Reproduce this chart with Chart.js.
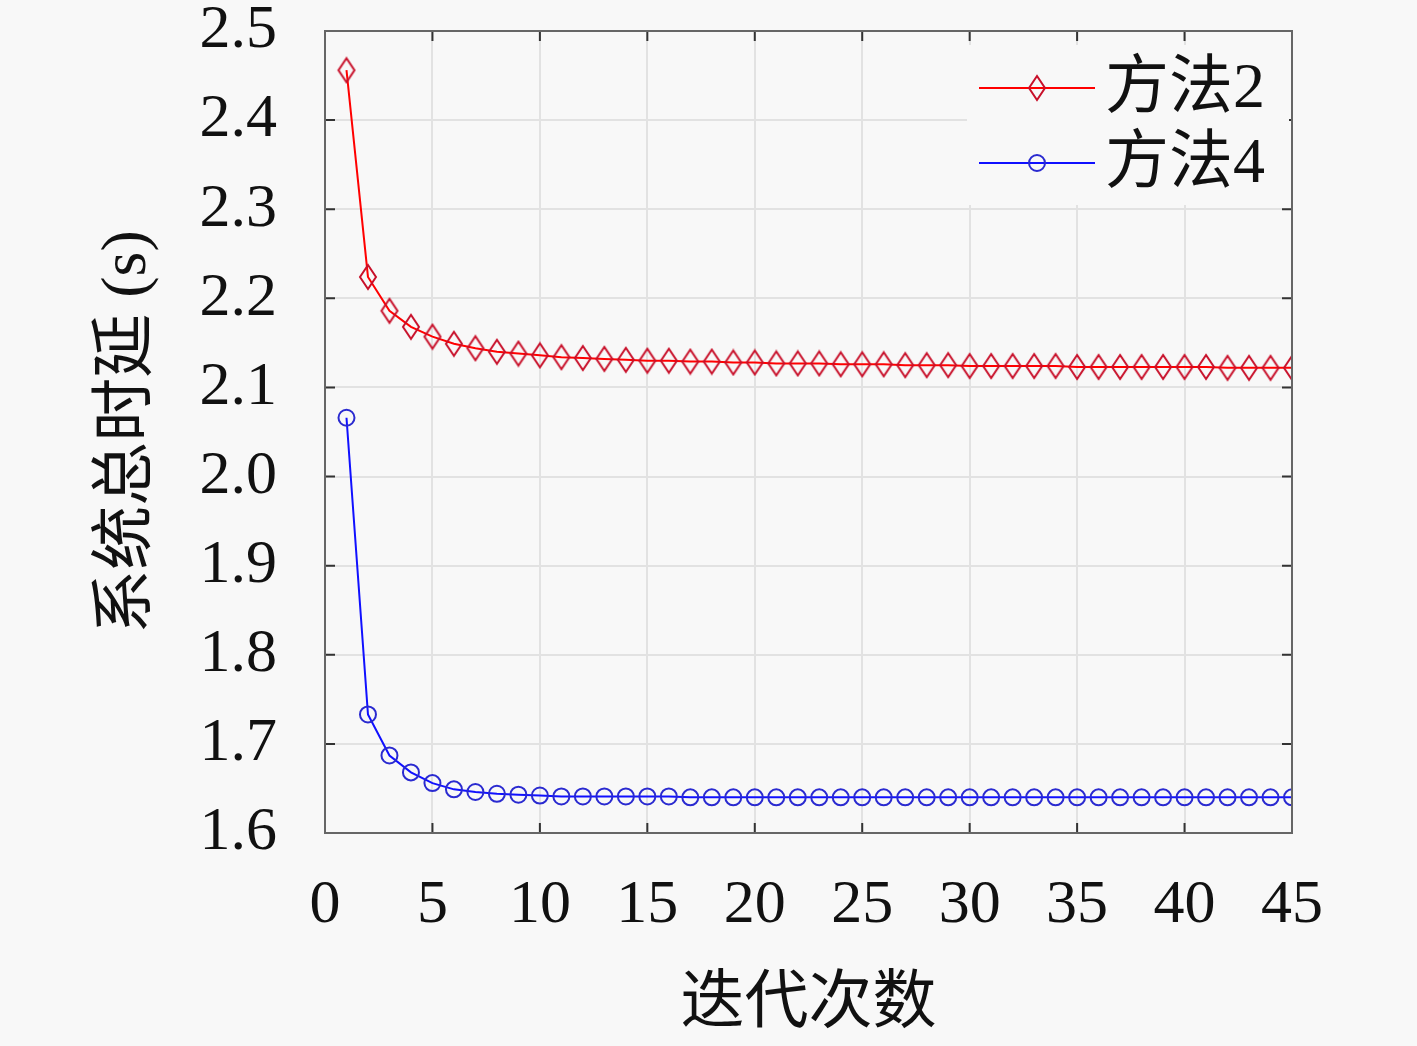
<!DOCTYPE html>
<html>
<head>
<meta charset="utf-8">
<script src="https://cdn.jsdelivr.net/npm/chart.js@4.4.1/dist/chart.umd.min.js"></script>
<style>
  html, body { margin: 0; padding: 0; background: #f8f8f8; }
  #wrap { width: 1417px; height: 1046px; }
</style>
</head>
<body>
<div id="wrap"><canvas id="delayChart" width="1417" height="1046"></canvas></div>
<script>
// Iteration numbers (x axis)
const iterations = [1, 2, 3, 4, 5, 6, 7, 8, 9, 10, 11, 12, 13, 14, 15, 16, 17, 18, 19, 20,
    21, 22, 23, 24, 25, 26, 27, 28, 29, 30, 31, 32, 33, 34, 35, 36, 37, 38, 39, 40,
    41, 42, 43, 44, 45];

// 方法2 total system delay (s)
const method2Delay = [2.456, 2.224, 2.186, 2.168, 2.157, 2.149, 2.144, 2.140, 2.138, 2.136,
    2.134, 2.133, 2.132, 2.131, 2.130, 2.130, 2.129, 2.129, 2.128, 2.128,
    2.127, 2.127, 2.127, 2.126, 2.126, 2.126, 2.125, 2.125, 2.125, 2.124,
    2.124, 2.124, 2.124, 2.124, 2.123, 2.123, 2.123, 2.123, 2.123, 2.123,
    2.123, 2.122, 2.122, 2.122, 2.122];

// 方法4 total system delay (s)
const method4Delay = [2.066, 1.733, 1.687, 1.668, 1.656, 1.649, 1.646, 1.644, 1.643, 1.642,
    1.641, 1.641, 1.641, 1.641, 1.641, 1.641, 1.640, 1.640, 1.640, 1.640,
    1.640, 1.640, 1.640, 1.640, 1.640, 1.640, 1.640, 1.640, 1.640, 1.640,
    1.640, 1.640, 1.640, 1.640, 1.640, 1.640, 1.640, 1.640, 1.640, 1.640,
    1.640, 1.640, 1.640, 1.640, 1.640];

const seriesNames = ['方法2', '方法4'];
const xTicks = [0, 5, 10, 15, 20, 25, 30, 35, 40, 45];
const yTicks = [1.6, 1.7, 1.8, 1.9, 2.0, 2.1, 2.2, 2.3, 2.4, 2.5];
const xTitle = '迭代次数';
const yTitle = '系统总时延 (s)';

const FONT = "'Liberation Serif', 'Noto Sans CJK SC', serif";
const BG = '#f8f8f8';
const RED = '#ff0000';
const BLUE = '#1010ff';

// Tall diamond marker like the MATLAB one
function makeDiamond(color) {
    const c = document.createElement('canvas');
    c.width = 20;
    c.height = 28;
    const g = c.getContext('2d');
    g.strokeStyle = color;
    g.lineWidth = 2;
    g.beginPath();
    g.moveTo(10, 2);
    g.lineTo(18, 14);
    g.lineTo(10, 26);
    g.lineTo(2, 14);
    g.closePath();
    g.stroke();
    return c;
}
const diamond = makeDiamond('#c8102a');

function toPoints(values) {
    return iterations.map((it, i) => ({ x: it, y: values[i] }));
}

// Box, inward ticks and legend drawn inside the axes
const matlabBox = {
    id: 'matlabBox',
    afterDraw(chart) {
        const { ctx, chartArea: a, scales } = chart;
        const x = scales.x, y = scales.y;
        ctx.save();

        // inward tick marks on all four sides
        ctx.strokeStyle = '#333';
        ctx.lineWidth = 2;
        ctx.beginPath();
        xTicks.forEach(v => {
            const px = x.getPixelForValue(v);
            ctx.moveTo(px, a.bottom); ctx.lineTo(px, a.bottom - 10);
            ctx.moveTo(px, a.top); ctx.lineTo(px, a.top + 10);
        });
        yTicks.forEach(v => {
            const py = y.getPixelForValue(v);
            ctx.moveTo(a.left, py); ctx.lineTo(a.left + 10, py);
            ctx.moveTo(a.right, py); ctx.lineTo(a.right - 10, py);
        });
        ctx.stroke();

        // frame
        ctx.strokeStyle = '#666';
        ctx.lineWidth = 2;
        ctx.strokeRect(a.left, a.top, a.right - a.left, a.bottom - a.top);

        // legend
        const boxLeft = a.right - 325, boxTop = a.top + 14;
        ctx.fillStyle = BG;
        ctx.fillRect(boxLeft, boxTop, 322, 160);
        chart.data.datasets.forEach((ds, i) => {
            const cy = a.top + 57 + i * 75;
            const x0 = boxLeft + 12, x1 = boxLeft + 128;
            ctx.strokeStyle = ds.borderColor;
            ctx.lineWidth = 2;
            ctx.beginPath();
            ctx.moveTo(x0, cy);
            ctx.lineTo(x1, cy);
            ctx.stroke();
            ctx.strokeStyle = ds.pointBorderColor;
            ctx.fillStyle = 'rgba(0,0,0,0)';
            Chart.helpers.drawPoint(ctx, {
                pointStyle: ds.pointStyle,
                radius: ds.pointRadius,
                rotation: 0,
                borderWidth: ds.pointBorderWidth
            }, (x0 + x1) / 2, cy);
            ctx.fillStyle = '#111';
            ctx.font = '64px ' + FONT;
            ctx.textAlign = 'left';
            ctx.textBaseline = 'middle';
            ctx.fillText(ds.label, x1 + 10, cy + 2);
        });

        ctx.restore();
    }
};

const ctx = document.getElementById('delayChart');
new Chart(ctx, {
    type: 'line',
    data: {
        datasets: [{
            label: seriesNames[0],
            data: toPoints(method2Delay),
            borderColor: RED,
            borderWidth: 2,
            pointStyle: diamond,
            pointRadius: 10,
            pointBorderColor: '#c8102a',
            pointBorderWidth: 2,
            pointBackgroundColor: 'rgba(0,0,0,0)',
            tension: 0,
            fill: false
        }, {
            label: seriesNames[1],
            data: toPoints(method4Delay),
            borderColor: BLUE,
            borderWidth: 2,
            pointStyle: 'circle',
            pointRadius: 8,
            pointBorderColor: '#2a2ad0',
            pointBorderWidth: 2,
            pointBackgroundColor: 'rgba(0,0,0,0)',
            tension: 0,
            fill: false
        }]
    },
    options: {
        responsive: false,
        animation: false,
        devicePixelRatio: 1,
        layout: {
            padding: { top: 31, right: 125, left: 0, bottom: 0 }
        },
        plugins: {
            legend: { display: false },
            tooltip: { enabled: false }
        },
        scales: {
            x: {
                type: 'linear',
                min: 0,
                max: 45,
                afterFit: scale => { scale.height = 213; },
                afterBuildTicks: scale => { scale.ticks = xTicks.map(v => ({ value: v })); },
                grid: { color: '#e2e2e2', lineWidth: 2, drawTicks: false },
                border: { display: false },
                ticks: {
                    padding: 42,
                    color: '#111',
                    font: { family: FONT, size: 62, lineHeight: 1 },
                    maxRotation: 0
                },
                title: {
                    display: true,
                    text: xTitle,
                    color: '#111',
                    font: { family: FONT, size: 64, lineHeight: 1.2 },
                    padding: { top: 0, bottom: 2 }
                }
            },
            y: {
                type: 'linear',
                min: 1.6,
                max: 2.5,
                afterFit: scale => { scale.width = 325; },
                afterBuildTicks: scale => { scale.ticks = yTicks.map(v => ({ value: v })); },
                // invisible tick length pushes the labels away from the axis
                grid: { color: '#e2e2e2', lineWidth: 2, drawTicks: true, tickLength: 48, tickColor: 'rgba(0,0,0,0)' },
                border: { display: false },
                ticks: {
                    padding: 0,
                    color: '#111',
                    font: { family: FONT, size: 62, lineHeight: 1 },
                    callback: v => Number(v).toFixed(1)
                },
                title: {
                    display: true,
                    text: yTitle,
                    color: '#111',
                    font: { family: FONT, size: 64, lineHeight: 1.2 },
                    padding: { top: 90, bottom: 0 }
                }
            }
        }
    },
    plugins: [matlabBox]
});
</script>
</body>
</html>
